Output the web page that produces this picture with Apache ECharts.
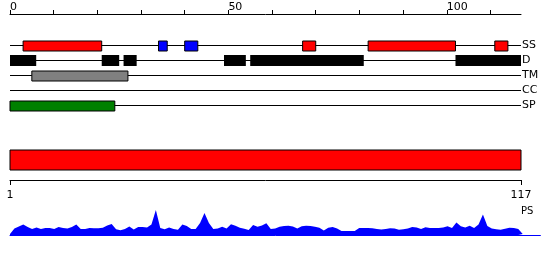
<!DOCTYPE html>
<html><head><meta charset="utf-8">
<script src="https://cdn.jsdelivr.net/npm/echarts@6/dist/echarts.min.js"></script>
<style>html,body{margin:0;padding:0;background:#fff}#c{width:550px;height:260px}</style>
</head><body><div id="c"></div>
<script>
// ---- data ----
const tracks = ['SS', 'D', 'TM', 'CC', 'SP'];
const proteinLength = 117;
const ssHelix = [[3, 21], [67, 70], [82, 102], [111, 114]];
const ssStrand = [[34, 36], [40, 43]];
const disorder = [[0, 6], [21, 25], [26, 29], [49, 54], [55, 81], [102, 117]];
const transmembrane = [[5, 27]];
const coiledCoil = [];
const signalPeptide = [[0, 24]];
const topTicks = [0, 10, 20, 30, 40, 50, 60, 70, 80, 90, 100, 110];
const topLabels = [0, 50, 100];
const bottomLabels = [1, 117];
const psValues = [
  1, 6.5, 8.5, 10.5, 8, 6, 7.5, 6, 7, 7,
  6, 8, 7, 6.5, 8, 10.5, 6, 6, 7, 6.7,
  6.7, 7.3, 9.5, 11, 5.8, 4.8, 6, 8.5, 5.5, 8,
  8, 7.5, 10.5, 25, 7, 5.8, 7.5, 6, 5.3, 10.5,
  9, 6, 6, 12, 22, 12, 6, 6.5, 8.3, 6.5,
  10.7, 9.3, 7.3, 6.3, 5, 10, 8.3, 9.5, 11.7, 6,
  6.5, 8.3, 9, 9.3, 8.5, 6.5, 8.7, 9.3, 9, 8.3,
  7.3, 4.5, 7.3, 8, 6.5, 4, 4, 4, 4, 7,
  7, 7, 6.7, 6, 5.5, 6, 6.8, 6.5, 5.2, 5.7,
  6.5, 8, 7.5, 6, 7.7, 7, 7, 7, 7.5, 8.7,
  7, 12.5, 8.7, 7.5, 9.3, 7, 10.5, 20.5, 9, 6.5,
  5.7, 5.2, 6.2, 7.3, 7, 6, 1
];

// ---- chart ----
const FONT = 'DejaVu Sans';
function regionsOn(list, trackIdx) { return list.map(r => [r[0], r[1], trackIdx]); }
function boxRenderer(h, withBorder) {
  return function (params, api) {
    const s = api.coord([api.value(0), api.value(2)]);
    const e = api.coord([api.value(1), api.value(2)]);
    return {
      type: 'rect',
      shape: { x: s[0], y: Math.round(s[1] - h / 2), width: e[0] - s[0], height: h },
      style: { fill: api.visual('color'), stroke: withBorder ? '#000' : null, lineWidth: withBorder ? 1 : 0 }
    };
  };
}
function lineRenderer(params, api) {
  const s = api.coord([api.value(0), api.value(2)]);
  const e = api.coord([api.value(1), api.value(2)]);
  const y = Math.floor(s[1]) + 0.5;
  return { type: 'line', shape: { x1: s[0], y1: y, x2: e[0], y2: y }, style: { stroke: '#000', lineWidth: 1 } };
}
function featureSeries(name, list, trackIdx, color, h, border) {
  return {
    name, type: 'custom', xAxisIndex: 0, yAxisIndex: 0, z: 3,
    itemStyle: { color }, renderItem: boxRenderer(h, border),
    encode: { x: [0, 1], y: 2 }, data: regionsOn(list, trackIdx), silent: true
  };
}

const chart = echarts.init(document.getElementById('c'), null, { renderer: 'canvas' });
chart.setOption({
  animation: false,
  textStyle: { fontFamily: FONT },
  title: { text: 'PS', left: 521, top: 206, textStyle: { fontFamily: FONT, fontSize: 10, fontWeight: 'normal', color: '#000' }, padding: 0 },
  grid: [
    { left: 10, width: 511, top: 38, height: 75 },
    { left: 10, width: 511, top: 140, height: 40 },
    { left: 10, width: 530.4, top: 205, height: 30 }
  ],
  xAxis: [
    {
      gridIndex: 0, type: 'value', position: 'top', offset: 24, min: 0, max: proteinLength,
      axisLine: { show: true, onZero: false, lineStyle: { color: '#000', width: 1 } },
      axisTick: { show: true, length: 4, customValues: topTicks, lineStyle: { color: '#000' } },
      axisLabel: { show: true, customValues: topLabels, align: 'left', margin: 1, fontSize: 11, color: '#000', fontFamily: FONT },
      splitLine: { show: false }
    },
    {
      gridIndex: 1, type: 'value', position: 'bottom', min: 1, max: proteinLength,
      axisLine: { show: true, onZero: false, lineStyle: { color: '#000', width: 1 } },
      axisTick: { show: true, length: 5, customValues: bottomLabels, lineStyle: { color: '#000' } },
      axisLabel: { show: true, customValues: bottomLabels, margin: 10, fontSize: 11, color: '#000', fontFamily: FONT },
      splitLine: { show: false }
    },
    {
      gridIndex: 2, type: 'value', min: 1, max: 121,
      axisLine: { show: true, onZero: false, lineStyle: { color: '#0000ff', width: 1 } },
      axisTick: { show: false }, axisLabel: { show: false }, splitLine: { show: false }
    }
  ],
  yAxis: [
    {
      gridIndex: 0, type: 'category', data: tracks, inverse: true, position: 'right',
      axisLine: { show: false }, axisTick: { show: false },
      axisLabel: { margin: 1, fontSize: 11, color: '#000', fontFamily: FONT }
    },
    { gridIndex: 1, type: 'category', data: ['protein'], show: false },
    { gridIndex: 2, type: 'value', min: 0, max: 30, show: false, splitLine: { show: false } }
  ],
  series: [
    {
      name: 'tracks', type: 'custom', xAxisIndex: 0, yAxisIndex: 0, z: 2,
      renderItem: lineRenderer, encode: { x: [0, 1], y: 2 },
      data: tracks.map((t, i) => [0, proteinLength, i]), silent: true
    },
    featureSeries('helix', ssHelix, 0, '#ff0000', 10, true),
    featureSeries('strand', ssStrand, 0, '#0000ff', 10, true),
    featureSeries('disorder', disorder, 1, '#000000', 11, false),
    featureSeries('tm', transmembrane, 2, '#808080', 10, true),
    featureSeries('cc', coiledCoil, 3, '#000000', 10, true),
    featureSeries('sp', signalPeptide, 4, '#008000', 10, true),
    {
      name: 'protein', type: 'custom', xAxisIndex: 1, yAxisIndex: 1, z: 3,
      itemStyle: { color: '#ff0000' }, renderItem: boxRenderer(20, true),
      encode: { x: [0, 1], y: 2 }, data: [[1, proteinLength, 0]], silent: true
    },
    {
      name: 'PS', type: 'line', xAxisIndex: 2, yAxisIndex: 2, z: 3,
      data: psValues.map((v, i) => [i + 1, v]),
      showSymbol: false, symbol: 'none', smooth: false,
      lineStyle: { width: 0, color: '#0000ff' },
      areaStyle: { color: '#0000ff', opacity: 1 },
      silent: true
    }
  ]
});
</script>
</body></html>
